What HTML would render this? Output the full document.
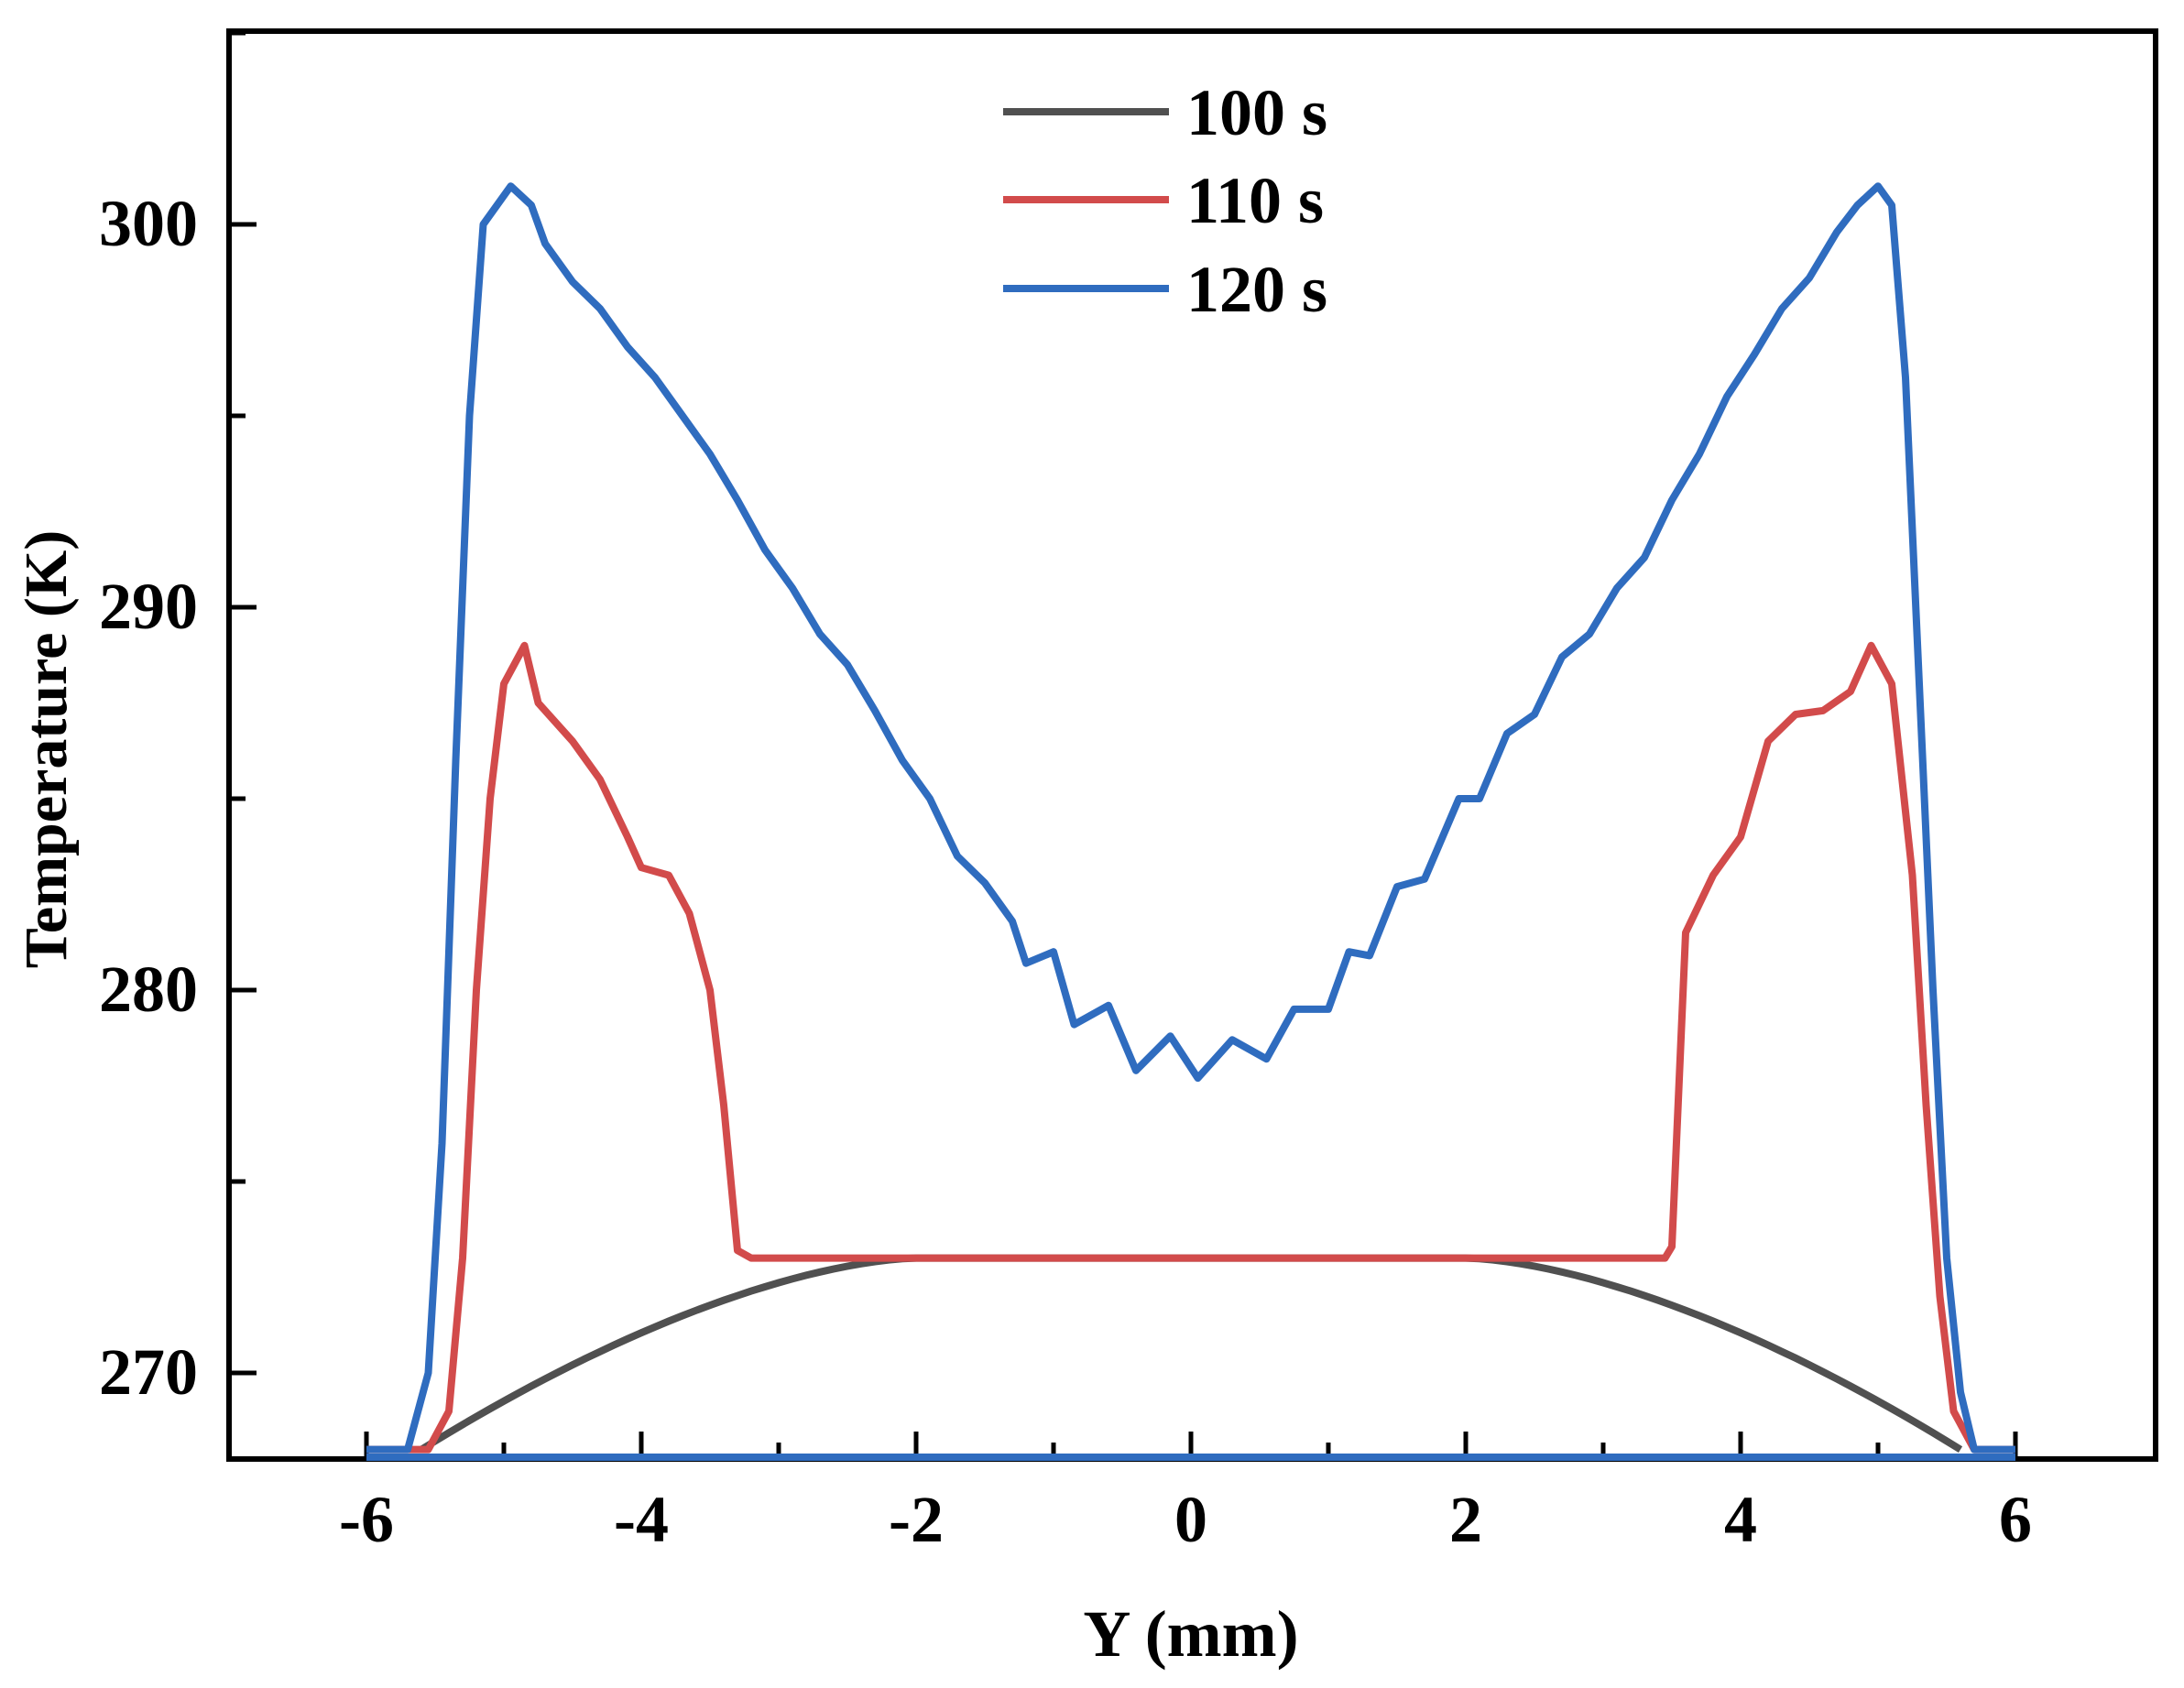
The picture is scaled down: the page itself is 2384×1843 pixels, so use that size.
<!DOCTYPE html>
<html><head><meta charset="utf-8"><style>
html,body{margin:0;padding:0;background:#fff}
svg{display:block}
text{font-family:"Liberation Serif",serif;font-weight:bold;fill:#000}
</style></head><body>
<svg id="s" width="2384" height="1843" viewBox="0 0 2384 1843" xmlns="http://www.w3.org/2000/svg">
<rect x="250" y="34" width="2103" height="1559" fill="none" stroke="#000" stroke-width="6"/>
<g id="ticks" stroke="#000" stroke-width="5"></g>
<g font-size="72" text-anchor="end">
<text x="216" y="1522">270</text>
<text x="216" y="1104">280</text>
<text x="216" y="686">290</text>
<text x="216" y="268">300</text>
</g>
<g font-size="72" text-anchor="middle" id="xl"></g>
<text x="1300" y="1808" font-size="72" text-anchor="middle">Y (mm)</text>
<text transform="translate(72,818) rotate(-90)" font-size="66" text-anchor="middle">Temperature (K)</text>
<g id="curves" fill="none" stroke-width="8" stroke-linejoin="round"></g>
<line x1="1095" y1="122" x2="1276" y2="122" stroke="#505050" stroke-width="8"/>
<line x1="1095" y1="218" x2="1276" y2="218" stroke="#d24b4b" stroke-width="8"/>
<line x1="1095" y1="315" x2="1276" y2="315" stroke="#2f6cbf" stroke-width="8"/>
<g font-size="72"><text x="1295" y="147">100 s</text><text x="1295" y="243">110 s</text><text x="1295" y="340">120 s</text></g>
</svg>
<script>
var X=function(x){return 1300+150*x},Y=function(t){return 1499-41.8*(t-270)};
var ns="http://www.w3.org/2000/svg",tk=document.getElementById('ticks'),xl=document.getElementById('xl');
function ln(x1,y1,x2,y2){var l=document.createElementNS(ns,'line');l.setAttribute('x1',x1);l.setAttribute('y1',y1);l.setAttribute('x2',x2);l.setAttribute('y2',y2);tk.appendChild(l);}
for(var x=-6;x<=6;x++){var p=X(x);ln(p,1593,p,1593-(x%2==0?30:18));if(x%2==0){var t=document.createElementNS(ns,'text');t.setAttribute('x',p);t.setAttribute('y',1683);t.textContent=(x<0?'-':'')+Math.abs(x);xl.appendChild(t);}}
for(var T=270;T<=305;T+=5){var q=Y(T);ln(250,q,250+(T%10==0?30:18),q);}
function path(pts,c){var d='';pts.forEach(function(p,i){d+=(i?'L':'M')+X(p[0]).toFixed(1)+','+Y(p[1]).toFixed(1);});var e=document.createElementNS(ns,'path');e.setAttribute('d',d);e.setAttribute('stroke',c);document.getElementById('curves').appendChild(e);}
var blk=[[-5.6,268]];for(var x=-5.5;x<=5.5;x+=0.1){var a=Math.abs(x);var t=a<2?273:273-5*Math.pow((a-2)/3.6,1.6);blk.push([x,t]);}blk.push([5.6,268]);
path(blk,'#505050');
path([[-6,267.8],[6,267.8]],'#2f6cbf');
path([[-6,268],[-5.55,268],[-5.4,269],[-5.3,273],[-5.2,280],[-5.1,285],[-5,288],[-4.85,289],[-4.75,287.5],[-4.5,286.5],[-4.3,285.5],[-4.1,284],[-4,283.2],[-3.8,283],[-3.65,282],[-3.5,280],[-3.4,277],[-3.3,273.2],[-3.2,273],[0,273],[3.45,273],[3.5,273.3],[3.6,281.5],[3.8,283],[4.0,284],[4.2,286.5],[4.4,287.2],[4.6,287.3],[4.8,287.8],[4.95,289],[5.1,288],[5.25,283],[5.35,277],[5.45,272],[5.55,269],[5.7,268],[6,268]],'#d24b4b');
path([[-6,268],[-5.7,268],[-5.55,270],[-5.45,276],[-5.35,286],[-5.25,295],[-5.15,300],[-4.95,301],[-4.8,300.5],[-4.7,299.5],[-4.5,298.5],[-4.3,297.8],[-4.1,296.8],[-3.9,296],[-3.7,295],[-3.5,294],[-3.3,292.8],[-3.1,291.5],[-2.9,290.5],[-2.7,289.3],[-2.5,288.5],[-2.3,287.3],[-2.1,286],[-1.9,285],[-1.7,283.5],[-1.5,282.8],[-1.3,281.8],[-1.2,280.7],[-1.0,281],[-0.85,279.1],[-0.6,279.6],[-0.4,277.9],[-0.15,278.8],[0.05,277.7],[0.3,278.7],[0.55,278.2],[0.75,279.5],[1.0,279.5],[1.15,281],[1.3,280.9],[1.5,282.7],[1.7,282.9],[1.95,285],[2.1,285],[2.3,286.7],[2.5,287.2],[2.7,288.7],[2.9,289.3],[3.1,290.5],[3.3,291.3],[3.5,292.8],[3.7,294],[3.9,295.5],[4.1,296.6],[4.3,297.8],[4.5,298.6],[4.7,299.8],[4.85,300.5],[5.0,301],[5.1,300.5],[5.2,296],[5.3,288],[5.4,280],[5.5,273],[5.6,269.5],[5.7,268],[6,268]],'#2f6cbf');
</script>
</body></html>
